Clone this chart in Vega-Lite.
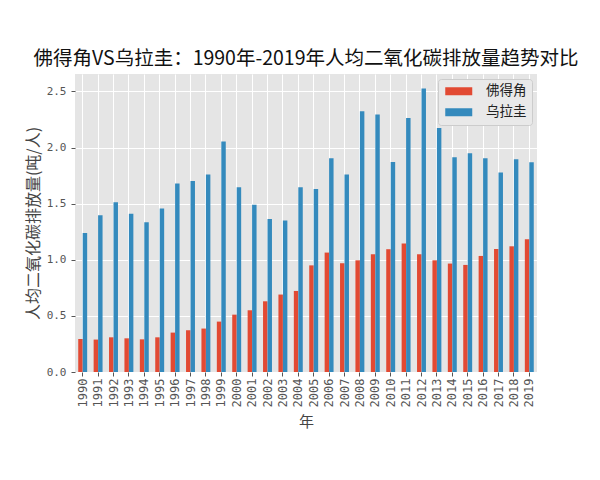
{
  "$schema": "https://vega.github.io/schema/vega-lite/v6.json",
  "width": 462,
  "height": 298,
  "autosize": {"type": "none"},
  "padding": {"left": 75, "top": 74, "right": 63, "bottom": 108},
  "background": "white",
  "title": {
    "text": "佛得角VS乌拉圭：1990年-2019年人均二氧化碳排放量趋势对比",
    "font": "Noto Sans CJK SC",
    "fontSize": 19.5,
    "fontWeight": "normal",
    "color": "#111111",
    "anchor": "middle",
    "offset": 5
  },
  "data": {
    "values": [
      {"year": "1990", "country": "佛得角", "value": 0.294}, {"year": "1990", "country": "乌拉圭", "value": 1.239},
      {"year": "1991", "country": "佛得角", "value": 0.289}, {"year": "1991", "country": "乌拉圭", "value": 1.397},
      {"year": "1992", "country": "佛得角", "value": 0.309}, {"year": "1992", "country": "乌拉圭", "value": 1.512},
      {"year": "1993", "country": "佛得角", "value": 0.300}, {"year": "1993", "country": "乌拉圭", "value": 1.411},
      {"year": "1994", "country": "佛得角", "value": 0.291}, {"year": "1994", "country": "乌拉圭", "value": 1.334},
      {"year": "1995", "country": "佛得角", "value": 0.309}, {"year": "1995", "country": "乌拉圭", "value": 1.456},
      {"year": "1996", "country": "佛得角", "value": 0.351}, {"year": "1996", "country": "乌拉圭", "value": 1.679},
      {"year": "1997", "country": "佛得角", "value": 0.372}, {"year": "1997", "country": "乌拉圭", "value": 1.702},
      {"year": "1998", "country": "佛得角", "value": 0.387}, {"year": "1998", "country": "乌拉圭", "value": 1.759},
      {"year": "1999", "country": "佛得角", "value": 0.449}, {"year": "1999", "country": "乌拉圭", "value": 2.053},
      {"year": "2000", "country": "佛得角", "value": 0.511}, {"year": "2000", "country": "乌拉圭", "value": 1.646},
      {"year": "2001", "country": "佛得角", "value": 0.550}, {"year": "2001", "country": "乌拉圭", "value": 1.489},
      {"year": "2002", "country": "佛得角", "value": 0.630}, {"year": "2002", "country": "乌拉圭", "value": 1.364},
      {"year": "2003", "country": "佛得角", "value": 0.690}, {"year": "2003", "country": "乌拉圭", "value": 1.349},
      {"year": "2004", "country": "佛得角", "value": 0.722}, {"year": "2004", "country": "乌拉圭", "value": 1.646},
      {"year": "2005", "country": "佛得角", "value": 0.950}, {"year": "2005", "country": "乌拉圭", "value": 1.631},
      {"year": "2006", "country": "佛得角", "value": 1.064}, {"year": "2006", "country": "乌拉圭", "value": 1.905},
      {"year": "2007", "country": "佛得角", "value": 0.969}, {"year": "2007", "country": "乌拉圭", "value": 1.759},
      {"year": "2008", "country": "佛得角", "value": 0.995}, {"year": "2008", "country": "乌拉圭", "value": 2.323},
      {"year": "2009", "country": "佛得角", "value": 1.049}, {"year": "2009", "country": "乌拉圭", "value": 2.294},
      {"year": "2010", "country": "佛得角", "value": 1.094}, {"year": "2010", "country": "乌拉圭", "value": 1.872},
      {"year": "2011", "country": "佛得角", "value": 1.144}, {"year": "2011", "country": "乌拉圭", "value": 2.264},
      {"year": "2012", "country": "佛得角", "value": 1.049}, {"year": "2012", "country": "乌拉圭", "value": 2.526},
      {"year": "2013", "country": "佛得角", "value": 0.995}, {"year": "2013", "country": "乌拉圭", "value": 2.175},
      {"year": "2014", "country": "佛得角", "value": 0.966}, {"year": "2014", "country": "乌拉圭", "value": 1.914},
      {"year": "2015", "country": "佛得角", "value": 0.954}, {"year": "2015", "country": "乌拉圭", "value": 1.949},
      {"year": "2016", "country": "佛得角", "value": 1.034}, {"year": "2016", "country": "乌拉圭", "value": 1.905},
      {"year": "2017", "country": "佛得角", "value": 1.096}, {"year": "2017", "country": "乌拉圭", "value": 1.777},
      {"year": "2018", "country": "佛得角", "value": 1.120}, {"year": "2018", "country": "乌拉圭", "value": 1.896},
      {"year": "2019", "country": "佛得角", "value": 1.183}, {"year": "2019", "country": "乌拉圭", "value": 1.868}
    ]
  },
  "mark": {"type": "bar", "stroke": null},
  "encoding": {
    "x": {
      "field": "year",
      "type": "nominal",
      "title": "年",
      "scale": {"paddingInner": 0.42, "paddingOuter": 0.21},
      "axis": {
        "bandPosition": 0.5,
        "labelAngle": 270,
        "labelAlign": "right",
        "labelBaseline": "middle",
        "labelFont": "DejaVu Sans Mono",
        "labelFontSize": 12,
        "labelColor": "#555555",
        "labelPadding": 2,
        "tickColor": "#555555",
        "tickSize": 4,
        "domain": false,
        "grid": true,
        "gridColor": "#FFFFFF",
        "gridWidth": 1,
        "titleFont": "Noto Sans CJK SC",
        "titleFontSize": 15,
        "titleFontWeight": "normal",
        "titleColor": "#444444",
        "titlePadding": 8
      }
    },
    "xOffset": {
      "field": "country",
      "type": "nominal",
      "sort": ["佛得角", "乌拉圭"],
      "scale": {"paddingInner": 0, "paddingOuter": 0}
    },
    "y": {
      "field": "value",
      "type": "quantitative",
      "title": "人均二氧化碳排放量(吨/人)",
      "scale": {"domain": [0, 2.655], "nice": false, "zero": true},
      "axis": {
        "values": [0, 0.5, 1, 1.5, 2, 2.5],
        "format": ".1f",
        "labelFont": "DejaVu Sans Mono",
        "labelFontSize": 11,
        "labelColor": "#555555",
        "labelPadding": 5,
        "tickColor": "#555555",
        "tickSize": 4,
        "domain": false,
        "grid": true,
        "gridColor": "#FFFFFF",
        "gridWidth": 1,
        "titleFont": "Noto Sans CJK SC",
        "titleFontSize": 16,
        "titleFontWeight": "normal",
        "titleColor": "#444444",
        "titlePadding": 5
      }
    },
    "color": {
      "field": "country",
      "type": "nominal",
      "title": null,
      "scale": {"domain": ["佛得角", "乌拉圭"], "range": ["#E24A33", "#348ABD"]},
      "legend": {
        "orient": "top-right",
        "offset": 5,
        "fillColor": "#E9E9E9",
        "strokeColor": "#CCCCCC",
        "cornerRadius": 3,
        "padding": 5.5,
        "symbolType": "M-1,-0.8H4.4V0.8H-1Z",
        "symbolSize": 100,
        "symbolStrokeWidth": 0,
        "symbolOpacity": 1,
        "rowPadding": 6,
        "labelOffset": 29,
        "labelFont": "Noto Sans CJK SC",
        "labelFontSize": 13.5,
        "labelColor": "#222222"
      }
    }
  },
  "config": {
    "view": {"fill": "#E5E5E5", "stroke": null}
  }
}
